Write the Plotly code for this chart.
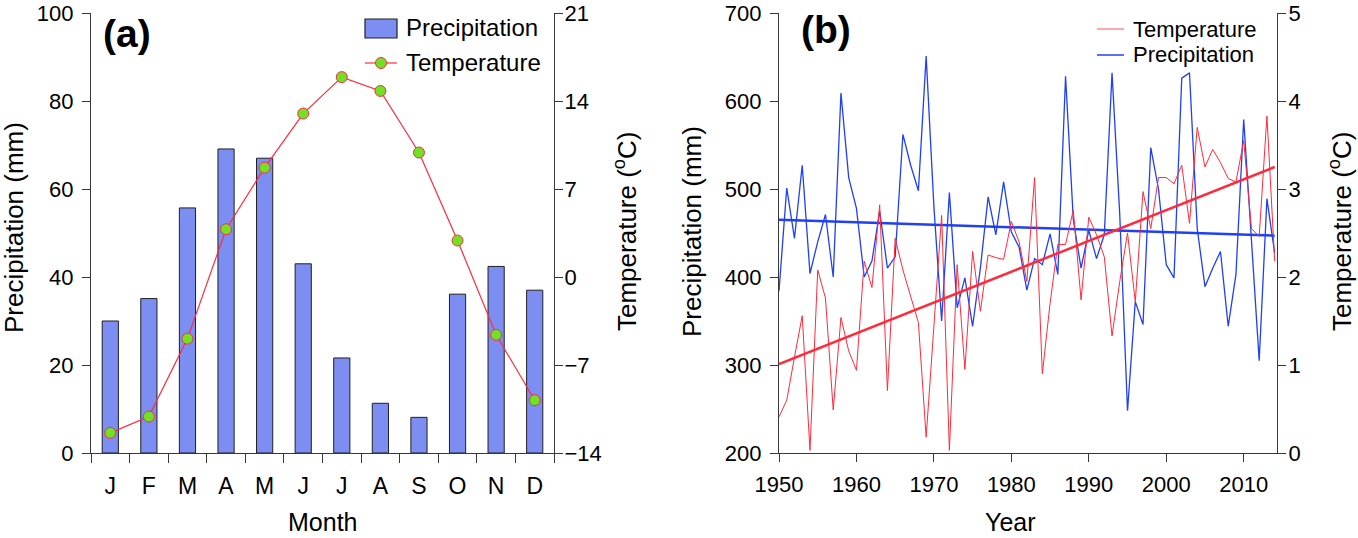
import plotly.graph_objects as go

# ---------------- Data: panel (a) ----------------
month_labels = ["J", "F", "M", "A", "M", "J", "J", "A", "S", "O", "N", "D"]
month_pos = list(range(12))
precip_month = [30.0, 35.1, 55.7, 69.1, 67.0, 43.0, 21.6, 11.3, 8.1, 36.1, 42.4, 37.0]
temp_month = [-12.4, -11.1, -4.9, 3.8, 8.7, 13.0, 15.9, 14.8, 9.9, 2.9, -4.6, -9.8]

# ---------------- Data: panel (b) ----------------
years = list(range(1950, 2015))
precip_year = [384, 501, 444, 527, 404, 440, 471, 400, 609, 513,
               478, 400, 418, 475, 410, 423, 562, 527, 498, 651,
               480, 350, 496, 365, 399, 344, 410, 491, 448, 508,
               451, 434, 385, 421, 414, 449, 403, 628, 465, 410,
               453, 421, 448, 632, 470, 248, 372, 346, 547, 500,
               414, 399, 626, 632, 455, 389, 410, 429, 344, 403,
               579, 442, 305, 489, 427]
temp_year = [0.41, 0.60, 1.09, 1.56, 0.03, 2.08, 1.76, 0.49, 1.54, 1.16,
             0.94, 2.18, 1.88, 2.82, 0.71, 2.44, 2.08, 1.78, 1.48, 0.18,
             1.46, 2.70, 0.03, 2.14, 0.95, 2.29, 1.61, 2.25, 2.22, 2.20,
             2.63, 2.40, 1.95, 3.13, 0.90, 1.70, 2.37, 2.37, 2.76, 1.74,
             2.68, 2.48, 2.23, 1.33, 1.95, 2.50, 1.72, 2.97, 2.55, 3.13,
             3.13, 3.06, 3.27, 2.61, 3.70, 3.25, 3.45, 3.30, 3.12, 3.08,
             3.55, 2.55, 2.46, 3.83, 2.18]
trend_years = [1950, 2014]
precip_trend = [465, 447]
temp_trend = [1.01, 3.25]

W, H = 1358, 538
FONT = "Liberation Sans, Arial, sans-serif"
AX = "#383838"
RED = "#FF2A3A"
BLUE = "#1F40F5"
BARC = "#7D8EF2"
GREEN = "#72E024"


def px(x):
    return x / W


def py(y):
    return 1 - y / H


fig = go.Figure()

# Panel (a)
fig.add_trace(go.Bar(x=month_pos, y=precip_month, width=0.42, name="Precipitation",
                     marker=dict(color=BARC, line=dict(color="#202020", width=1)),
                     xaxis="x", yaxis="y"))
fig.add_trace(go.Scatter(x=month_pos, y=temp_month, mode="lines+markers", name="Temperature",
                         line=dict(color=RED, width=1.2),
                         marker=dict(color=GREEN, size=11, line=dict(color=RED, width=1)),
                         xaxis="x", yaxis="y2"))

# Panel (b)
fig.add_trace(go.Scatter(x=years, y=temp_year, mode="lines", name="Temperature",
                         line=dict(color=RED, width=1), xaxis="x2", yaxis="y4"))
fig.add_trace(go.Scatter(x=years, y=precip_year, mode="lines", name="Precipitation",
                         line=dict(color=BLUE, width=1.3), xaxis="x2", yaxis="y3"))
fig.add_trace(go.Scatter(x=trend_years, y=precip_trend, mode="lines", name="Precipitation trend",
                         line=dict(color=BLUE, width=2.5), xaxis="x2", yaxis="y3"))
fig.add_trace(go.Scatter(x=trend_years, y=temp_trend, mode="lines", name="Temperature trend",
                         line=dict(color=RED, width=2.5), xaxis="x2", yaxis="y4"))

ydom = [py(453), py(13)]
tickfont = dict(family=FONT, size=22, color="black")


def axis_style(standoff=4):
    return dict(showline=True, linecolor=AX, linewidth=1.2, ticks="outside", ticklen=8,
                tickcolor=AX, tickwidth=1.2, showgrid=False, zeroline=False, tickfont=tickfont,
                automargin=False, ticklabelstandoff=standoff, ticklabeloverflow="allow")


eps = 1e-6

fig.update_layout(
    template="none",
    width=W, height=H, margin=dict(l=0, r=0, t=0, b=0, pad=0), autosize=False,
    paper_bgcolor="white", plot_bgcolor="rgba(0,0,0,0)",
    font=dict(family=FONT, color="black"),
    showlegend=False,
    xaxis=dict(domain=[px(91), px(554)], range=[-0.5, 11.5], tickmode="array",
               tickvals=month_pos, ticktext=month_labels,
               showline=True, linecolor=AX, linewidth=1.2, ticks="", showgrid=False,
               zeroline=False, tickfont=dict(family=FONT, size=23, color="black"),
               ticklabelstandoff=12, automargin=False, ticklabeloverflow="allow",
               minor=dict(tickmode="linear", tick0=0.5, dtick=1, ticks="outside",
                          ticklen=9, tickcolor=AX, tickwidth=1.2, showgrid=False),
               anchor="y"),
    yaxis=dict(domain=ydom, range=[0, 100 * (1 + eps)], dtick=20, anchor="x", **axis_style(4)),
    yaxis2=dict(range=[-14, 21 + eps], dtick=7, tick0=-14, overlaying="y", side="right",
                anchor="x", **axis_style(-3)),
    xaxis2=dict(domain=[px(779), px(1277)], range=[1950, 2014.3], dtick=10, tick0=1950,
                anchor="y3", **axis_style(3)),
    yaxis3=dict(domain=ydom, range=[200, 700 * (1 + eps)], dtick=100, anchor="x2",
                **axis_style(4)),
    yaxis4=dict(range=[0, 5 * (1 + eps)], dtick=1, overlaying="y3", side="right", anchor="x2",
                **axis_style(-2)),
)

annotations = []
shapes = []


def text(t, x, y, size, anchor="left", ang=0):
    annotations.append(dict(text=t, x=px(x), y=py(y), xref="paper", yref="paper",
                            xanchor=anchor, yanchor="middle", showarrow=False, textangle=ang,
                            font=dict(family=FONT, size=size, color="black")))


text("<b>(a)</b>", 101, 33, 39)
text("<b>(b)</b>", 799, 29, 39)

text("Precipitation (mm)", 14, 228, 26, "center", -90)
text("Temperature (<sup>o</sup>C)", 625, 232, 26, "center", -90)
text("Month", 322, 522, 25, "center")
text("Precipitation (mm)", 692, 232, 26, "center", -90)
text("Temperature (<sup>o</sup>C)", 1340, 232, 26, "center", -90)
text("Year", 1010, 522, 25, "center")

# Legend (a)
shapes.append(dict(type="rect", xref="paper", yref="paper", x0=px(365), x1=px(397),
                   y0=py(38), y1=py(19), fillcolor=BARC, line=dict(color="#202020", width=1.2)))
text("Precipitation", 404, 28, 24)
shapes.append(dict(type="line", xref="paper", yref="paper", x0=px(365), x1=px(397),
                   y0=py(63), y1=py(63), line=dict(color=RED, width=1.2)))
shapes.append(dict(type="circle", xref="paper", yref="paper", x0=px(375.5), x1=px(386.5),
                   y0=py(68.5), y1=py(57.5), fillcolor=GREEN, line=dict(color=RED, width=1)))
text("Temperature", 404, 63, 24)

# Legend (b)
shapes.append(dict(type="line", xref="paper", yref="paper", x0=px(1097), x1=px(1124),
                   y0=py(29), y1=py(29), line=dict(color="#FF5060", width=1)))
text("Temperature", 1131, 29, 22)
shapes.append(dict(type="line", xref="paper", yref="paper", x0=px(1097), x1=px(1124),
                   y0=py(55), y1=py(55), line=dict(color=BLUE, width=1.5)))
text("Precipitation", 1131, 55, 22)

fig.update_layout(annotations=annotations, shapes=shapes)

fig.write_html("out.html")
